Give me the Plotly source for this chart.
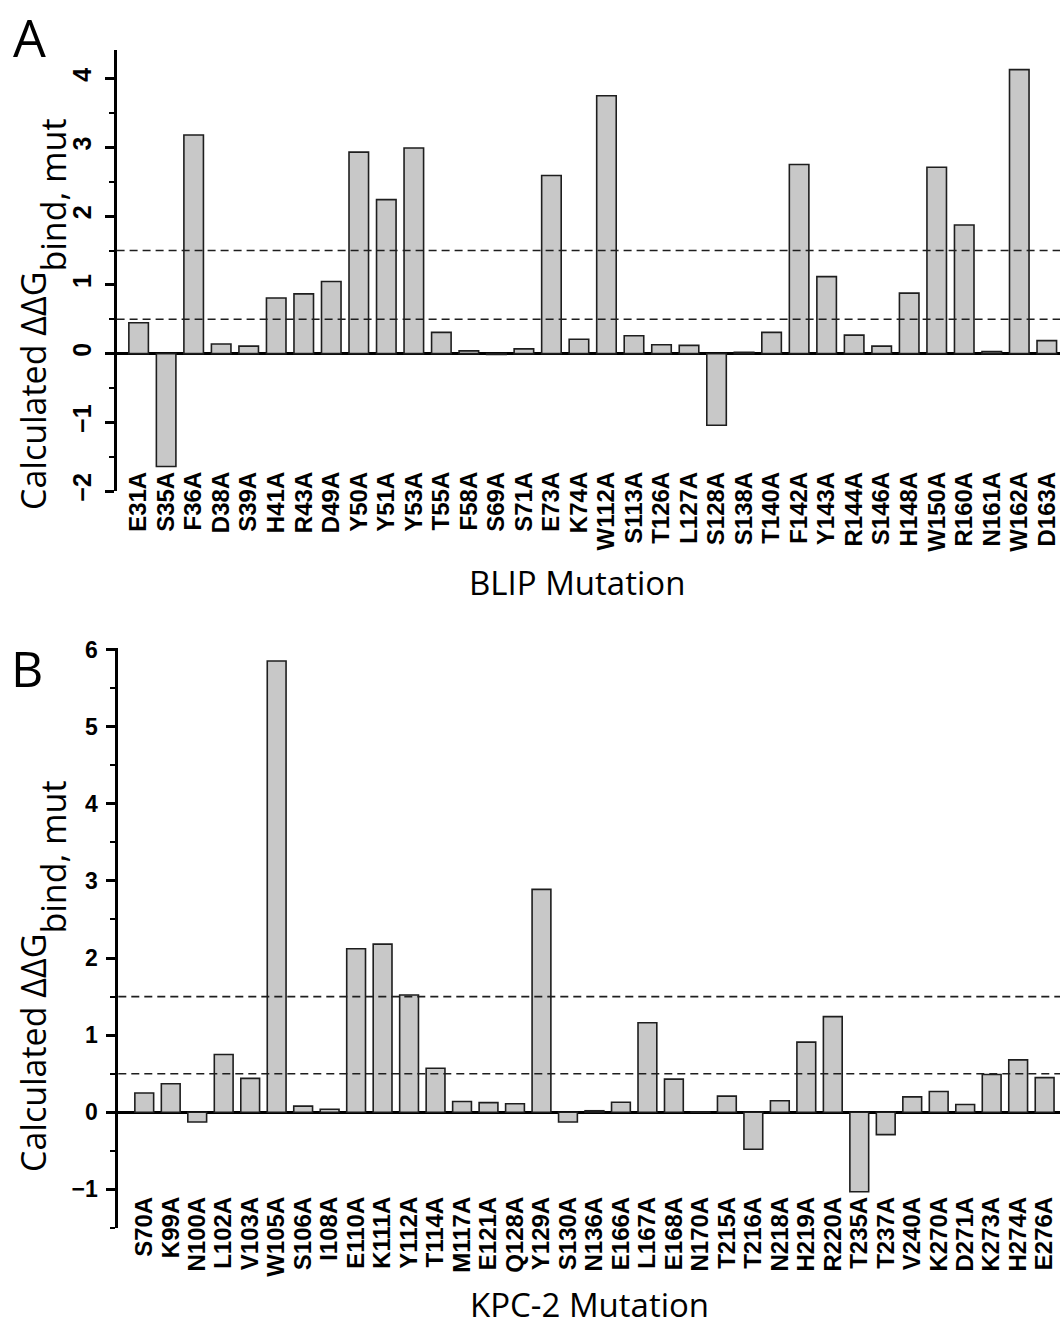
import plotly.graph_objects as go

cats_A = ["E31A","S35A","F36A","D38A","S39A","H41A","R43A","D49A","Y50A","Y51A","Y53A",
          "T55A","F58A","S69A","S71A","E73A","K74A","W112A","S113A","T126A","L127A","S128A",
          "S138A","T140A","F142A","Y143A","R144A","S146A","H148A","W150A","R160A","N161A",
          "W162A","D163A"]
vals_A = [0.45,-1.64,3.18,0.14,0.11,0.81,0.87,1.05,2.93,2.24,2.99,0.31,0.04,-0.01,0.07,
          2.59,0.21,3.75,0.26,0.13,0.12,-1.04,0.02,0.31,2.75,1.12,0.27,0.11,0.88,2.71,1.87,
          0.03,4.13,0.19]

cats_B = ["S70A","K99A","N100A","L102A","V103A","W105A","S106A","I108A","E110A","K111A",
          "Y112A","T114A","M117A","E121A","Q128A","Y129A","S130A","N136A","E166A","L167A",
          "E168A","N170A","T215A","T216A","N218A","H219A","R220A","T235A","T237A","V240A",
          "K270A","D271A","K273A","H274A","E276A"]
vals_B = [0.25,0.37,-0.125,0.75,0.44,5.85,0.08,0.04,2.12,2.18,1.52,0.57,0.14,0.125,0.11,
          2.89,-0.125,0.02,0.13,1.16,0.43,0.005,0.21,-0.48,0.15,0.91,1.24,-1.03,-0.29,0.2,
          0.27,0.1,0.49,0.68,0.45]

thresholds = [0.5, 1.5]
ticks_A = [-2, -1, 0, 1, 2, 3, 4]
ticks_B = [-1, 0, 1, 2, 3, 4, 5, 6]

W, H = 1060, 1328
def py(px):
    return 1 - px / H
def pxx(px):
    return px / W

BAR_FILL = "#c8c8c8"
BAR_LINE = "#1e1e1e"
TITLE_FONT = "Open Sans"
TICK_FONT = "Liberation Sans"

fig = go.Figure()
fig.add_trace(go.Bar(x=cats_A, y=vals_A, xaxis="x", yaxis="y",
                     marker=dict(color=BAR_FILL, line=dict(color=BAR_LINE, width=1.6)),
                     showlegend=False))
fig.add_trace(go.Bar(x=cats_B, y=vals_B, xaxis="x2", yaxis="y2",
                     marker=dict(color=BAR_FILL, line=dict(color=BAR_LINE, width=1.6)),
                     showlegend=False))

common_y = dict(showline=True, linewidth=3, linecolor="black", showgrid=False,
                zeroline=True, zerolinewidth=3, zerolinecolor="black", automargin=False,
                ticks="outside", ticklen=9, tickwidth=2.5, tickcolor="black",
                minor=dict(dtick=0.5, ticks="outside", ticklen=5, tickwidth=2, tickcolor="black"))
common_x = dict(type="category", anchor="free", showline=False, showgrid=False,
                ticks="", tickangle=-90, automargin=False, tickmode="linear", tick0=0, dtick=1,
                tickfont=dict(family=TICK_FONT, size=24, color="black", weight="bold"))

fig.update_layout(
    width=W, height=H, margin=dict(l=0, r=0, t=0, b=0, autoexpand=False),
    paper_bgcolor="white", plot_bgcolor="white",
    bargap=0.29,
    xaxis=dict(domain=[pxx(116.6), 1], range=[-0.8, 33.48], position=py(466), **common_x),
    yaxis=dict(domain=[py(491.2), py(49.7)], range=[-2, 4.42], anchor="x",
               tickvals=ticks_A, tickangle=-90, ticklabelstandoff=4,
               tickfont=dict(family=TICK_FONT, size=25, color="black", weight="bold"),
               **common_y),
    xaxis2=dict(domain=[pxx(118.3), 1], range=[-0.98, 34.58], position=py(1191), **common_x),
    yaxis2=dict(domain=[py(1228), py(647.9)], range=[-1.5, 6.02], anchor="x2",
                tickvals=ticks_B, ticklabelstandoff=4,
                tickfont=dict(family=TICK_FONT, size=23, color="black", weight="bold"),
                **common_y),
)

for t in thresholds:
    fig.add_shape(type="line", xref="x domain", yref="y", x0=0, x1=1, y0=t, y1=t,
                  line=dict(color="#1e1e1e", width=1.6, dash="8px,5px"))
    fig.add_shape(type="line", xref="x2 domain", yref="y2", x0=0, x1=1, y0=t, y1=t,
                  line=dict(color="#1e1e1e", width=1.6, dash="8px,5px"))

def note(text, x, y, size, angle=0, yanchor="middle"):
    fig.add_annotation(text=text, xref="paper", yref="paper", x=pxx(x), y=py(y),
                       xanchor="center", yanchor=yanchor, textangle=angle,
                       showarrow=False, font=dict(family=TITLE_FONT, size=size, color="black"))

ytitle = ("Calculated ΔΔG<sub><span style='font-size:34px;baseline-shift:-13px'>"
          "bind, mut</span></sub>")
note(ytitle, 43, 314, 34, -90)
note(ytitle, 43, 976, 34, -90)
note("BLIP Mutation", 577, 582, 33)
note("KPC-2 Mutation", 589, 1304, 33)
note("A", 29, 36, 52)
note("B", 27, 668, 50)

fig.write_html("out.html", config={"displayModeBar": False},
               post_script="document.body.style.margin='0px';")
